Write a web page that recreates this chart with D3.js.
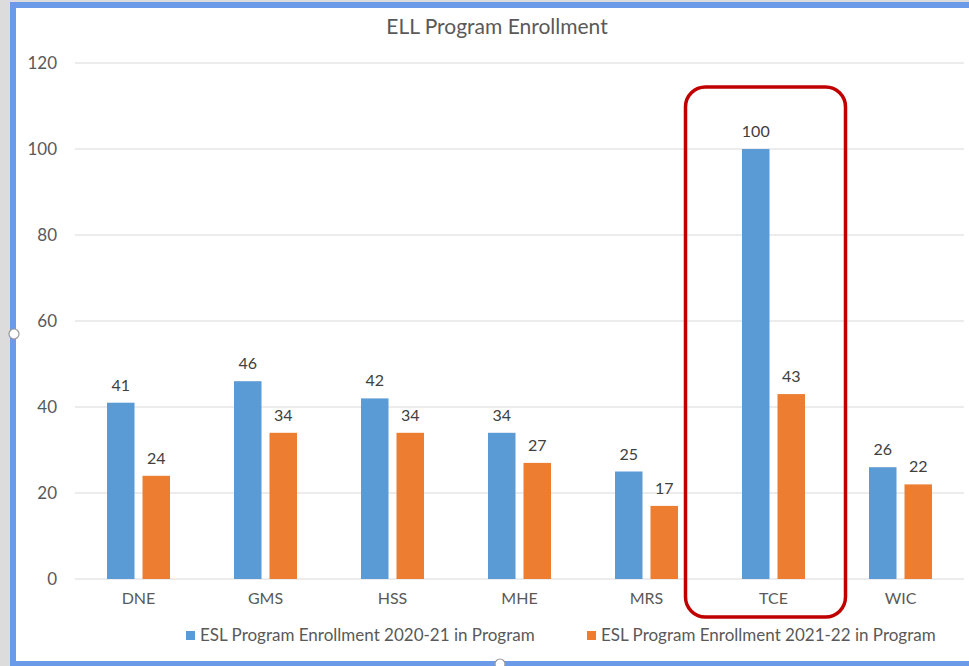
<!DOCTYPE html>
<html>
<head>
<meta charset="utf-8">
<script src="https://cdn.jsdelivr.net/npm/d3@7"></script>
<style>
  body { margin: 0; background: #dcdcdc; }
  svg { display: block; font-family: Lato, "Open Sans", sans-serif; }
</style>
</head>
<body>
<svg width="969" height="666"></svg>
<script>
// chart values
var schools = ["DNE", "GMS", "HSS", "MHE", "MRS", "TCE", "WIC"];
var enroll2021 = [41, 46, 42, 34, 25, 100, 26];
var enroll2122 = [24, 34, 34, 27, 17, 43, 22];
var seriesNames = ["ESL Program Enrollment 2020-21 in Program", "ESL Program Enrollment 2021-22 in Program"];
var yTicks = [0, 20, 40, 60, 80, 100, 120];

var colors = ["#5b9bd5", "#ed7d31"];
var textColor = "#595959";

var svg = d3.select("svg");

// excel-style selection frame
svg.append("rect").attr("x", 10).attr("y", 2).attr("width", 980).attr("height", 680)
  .attr("fill", "#6b9be8");
svg.append("rect").attr("x", 16).attr("y", 8).attr("width", 980).attr("height", 653)
  .attr("fill", "#fff");
svg.append("circle").attr("cx", 14).attr("cy", 334).attr("r", 5)
  .attr("fill", "#fff").attr("stroke", "#999").attr("stroke-width", 1.2);
svg.append("circle").attr("cx", 500).attr("cy", 664).attr("r", 5)
  .attr("fill", "#fff").attr("stroke", "#999").attr("stroke-width", 1.2);

var x = d3.scaleBand().domain(schools).range([75, 964]);
var y = d3.scaleLinear().domain([0, 120]).range([579, 63]);
var barW = 27.5, gap = 8;

// gridlines
svg.append("g").selectAll("line")
  .data(yTicks)
  .enter()
  .append("line")
  .attr("x1", 75).attr("x2", 964)
  .attr("y1", d => y(d)).attr("y2", d => y(d))
  .attr("stroke", "#d9d9d9").attr("stroke-width", 1.2);

// y axis labels
var yAxis = svg.append("g")
  .attr("transform", "translate(62,0)")
  .call(d3.axisLeft(y).tickValues(yTicks).tickSize(0).tickPadding(5));
yAxis.select(".domain").remove();
yAxis.selectAll("text").attr("font-size", 17).attr("fill", textColor)
  .attr("font-family", "Lato, sans-serif");

// x axis labels
var xAxis = svg.append("g")
  .attr("transform", "translate(0,579)")
  .call(d3.axisBottom(x).tickSize(0).tickPadding(14));
xAxis.select(".domain").remove();
xAxis.selectAll("text").attr("font-size", 16).attr("fill", textColor)
  .attr("font-family", "Lato, sans-serif");

var series = [enroll2021, enroll2122];
series.forEach(function (vals, s) {
  var off = s === 0 ? -gap / 2 - barW : gap / 2;
  var g = svg.append("g");
  g.selectAll("rect")
    .data(vals)
    .enter()
    .append("rect")
    .attr("x", (d, i) => x(schools[i]) + x.bandwidth() / 2 + off)
    .attr("y", d => y(d))
    .attr("width", barW)
    .attr("height", d => y(0) - y(d))
    .attr("fill", colors[s]);
  g.selectAll("text")
    .data(vals)
    .enter()
    .append("text")
    .attr("x", (d, i) => x(schools[i]) + x.bandwidth() / 2 + off + barW / 2)
    .attr("y", d => y(d) - 12)
    .attr("text-anchor", "middle")
    .attr("font-size", 16)
    .attr("fill", "#404040")
    .text(d => d);
});

// title
svg.append("text")
  .attr("x", 497).attr("y", 34)
  .attr("text-anchor", "middle")
  .attr("font-size", 21)
  .attr("fill", textColor)
  .text("ELL Program Enrollment");

// legend
var legX = [186, 587];
seriesNames.forEach(function (name, s) {
  svg.append("rect").attr("x", legX[s]).attr("y", 631).attr("width", 9).attr("height", 9)
    .attr("fill", colors[s]);
  svg.append("text").attr("x", legX[s] + 14).attr("y", 641)
    .attr("font-size", 17).attr("fill", textColor)
    .text(name);
});

// red highlight around TCE
var tc = x("TCE") + x.bandwidth() / 2;
svg.append("rect")
  .attr("x", tc - 88).attr("y", 87)
  .attr("width", 160).attr("height", 530)
  .attr("rx", 20).attr("ry", 20)
  .attr("fill", "none")
  .attr("stroke", "#c00000")
  .attr("stroke-width", 3.5);
</script>
</body>
</html>
